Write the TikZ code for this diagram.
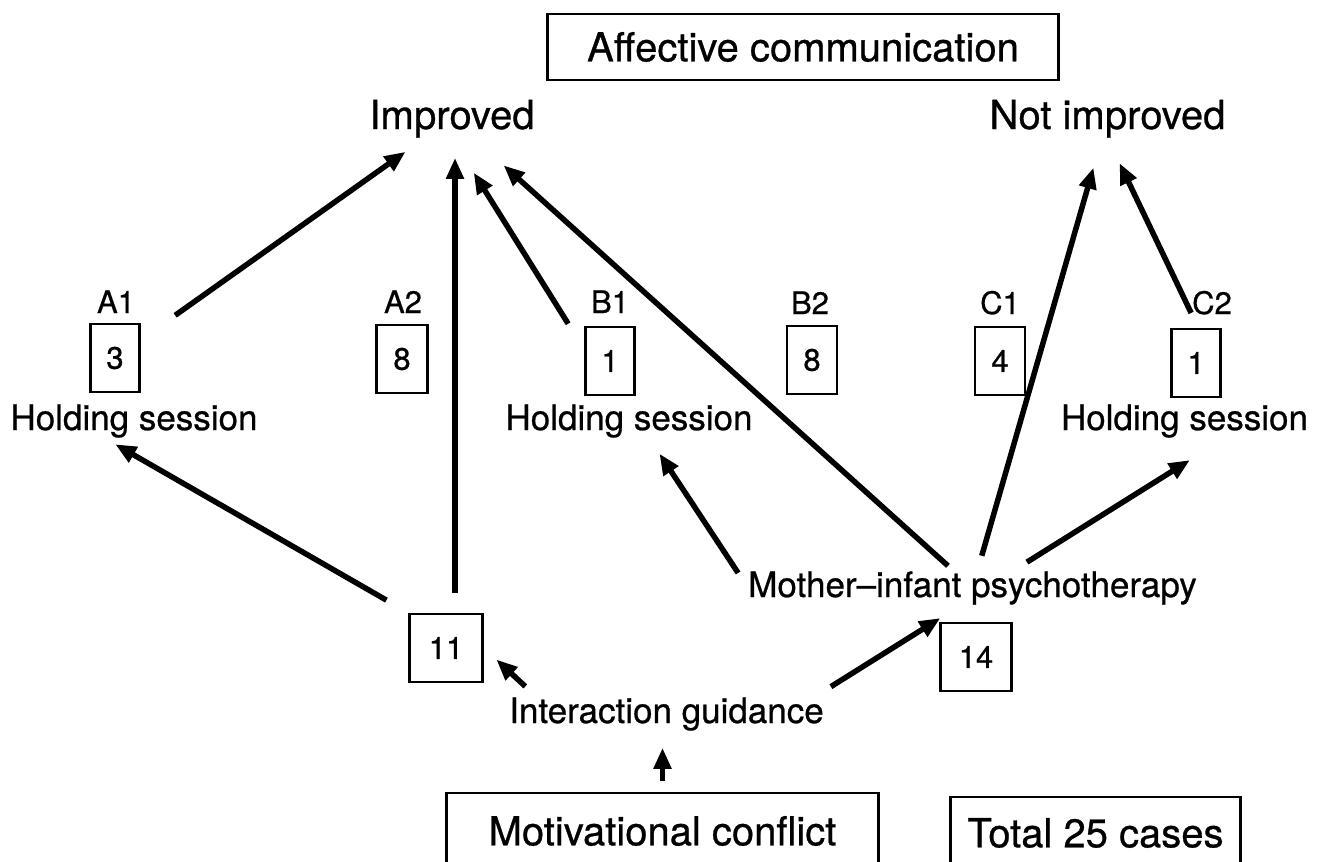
\documentclass[tikz,border=0pt]{standalone}
\usepackage{fontspec}
\setmainfont{TeX Gyre Heros}[FakeBold=0.7]
\usetikzlibrary{arrows.meta}

\begin{document}
\begin{tikzpicture}[x=1pt,y=-1pt]

    \tikzset{
      big/.style={font=\fontsize{40}{48}\selectfont},
      mid/.style={font=\fontsize{35}{42}\selectfont},
      small/.style={font=\fontsize{31}{37}\selectfont},
      txt/.style={inner sep=0pt, anchor=base},
      frame/.style={draw, line width=2.8pt, inner sep=0pt},
      count/.style={frame, small, minimum width=49pt, minimum height=68pt},
      arr/.style={line width=5.5pt, -{Triangle[length=21pt,width=17pt]}},
    }
    \useasboundingbox (0,0) rectangle (1323,862);

    \node[frame, big, minimum width=511pt, minimum height=66pt] (aff) at (803,47) {Affective communication};
    \node[txt, big] (improved) at (452,129) {Improved};
    \node[txt, big] (notimp) at (1107.5,129) {Not improved};

    \node[txt, small] (lA1) at (116,313) {A1};
    \node[txt, small] (lA2) at (403,313) {A2};
    \node[txt, small] (lB1) at (610,313) {B1};
    \node[txt, small] (lB2) at (810,314) {B2};
    \node[txt, small] (lC1) at (1000,314) {C1};
    \node[txt, small] (lC2) at (1212,314) {C2};

    \node[count] (b3) at (115,358) {3};
    \node[count, minimum width=51pt] (b8a) at (402,359) {8};
    \node[count] (b1a) at (610,361) {1};
    \node[count, minimum width=50pt] (b8b) at (812,360) {8};
    \node[count, minimum width=50pt] (b4) at (1000,361) {4};
    \node[count] (b1b) at (1196,363) {1};

    \node[txt, mid] (hsA) at (134,430) {Holding session};
    \node[txt, mid] (hsB) at (629,430) {Holding session};
    \node[txt, mid] (hsC) at (1184.5,430) {Holding session};

    \node[txt, mid] (mip) at (972.5,597) {Mother–infant psychotherapy};
    \node[count, minimum width=73pt] (b11) at (446,648) {11};
    \node[count, minimum width=71pt] (b14) at (976,657) {14};
    \node[txt, mid] (ig) at (666.5,723) {Interaction guidance};

    \node[frame, big, minimum width=432pt, minimum height=76pt] (mot) at (662.5,831) {Motivational conflict};
    \node[frame, big, minimum width=290pt, minimum height=72pt] (total) at (1095.5,833) {Total 25 cases};

    \draw[arr, shorten <=42pt, shorten >=24pt] (b3) -- (improved);
    \coordinate (up11) at ([xshift=9pt]b11.north);
    \draw[arr, shorten <=20pt, shorten >=20pt] (up11) -- (up11 |- improved.south);
    \draw[arr, shorten <=95pt, shorten >=41pt] (hsB) -- (improved.south);
    \draw[arr, shorten <=8pt, shorten >=41pt] (mip) -- (improved);
    \draw[arr, shorten <=16pt, shorten >=31pt] (mip) -- (notimp);
    \draw[arr, shorten <=2pt, shorten >=28pt] (lC2.south west) -- (notimp.south);
    \draw[arr, shorten <=18pt, shorten >=19pt] (mip.west) -- ([xshift=20pt]hsB.south);
    \draw[arr, shorten <=17pt, shorten >=42pt] ([xshift=40pt]mip.north) -- ([xshift=41pt]hsC.south);
    \draw[arr, shorten <=25pt, shorten >=13pt] (b11.north west) -- ([xshift=-30pt]hsA.south);
    \draw[arr, shorten <=16pt, shorten >=17pt] ([xshift=28pt]ig.north west) -- (b11.east);
    \draw[arr, shorten <=20pt, shorten >=25pt] ([xshift=-10pt]ig.north east) -- ([xshift=-11pt]mip.south);
    \draw[arr, shorten <=11pt, shorten >=17pt] (mot.north) -- (mot.north |- ig.south);

\end{tikzpicture}
\end{document}
